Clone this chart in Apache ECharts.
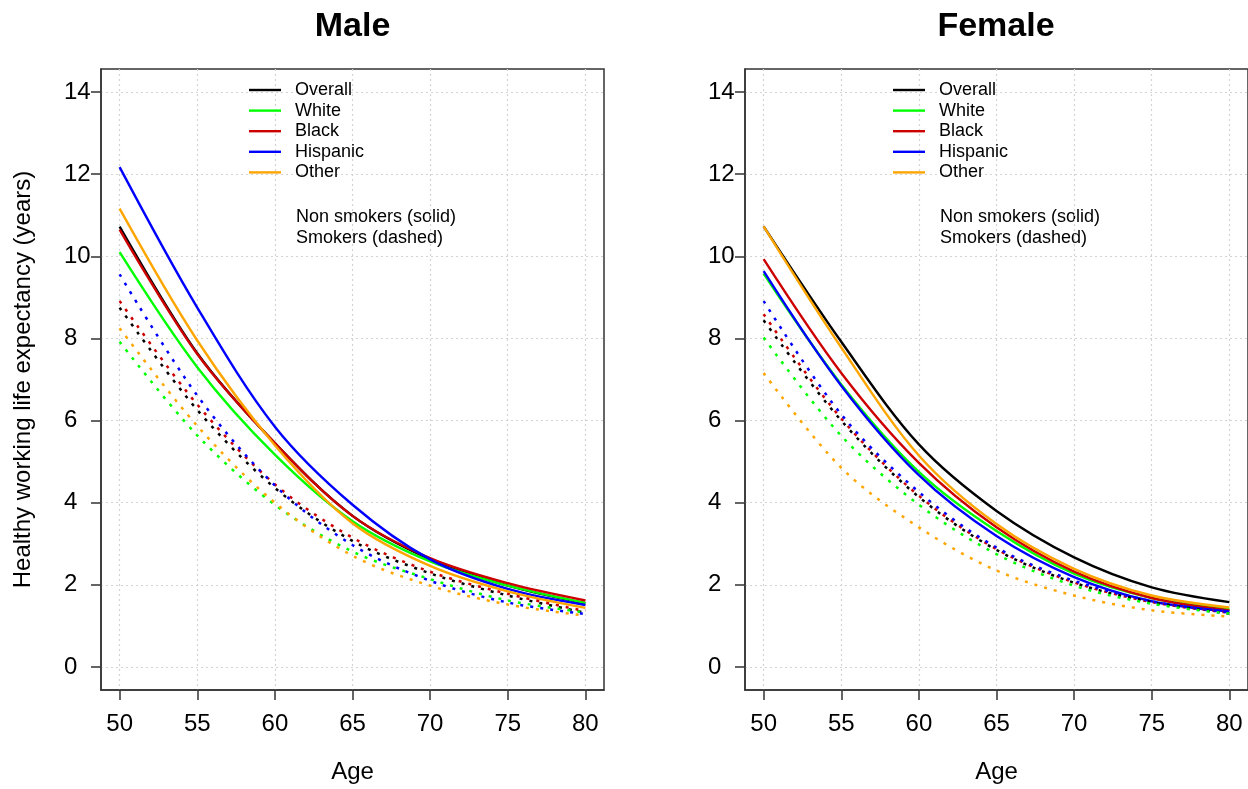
<!DOCTYPE html>
<html>
<head>
<meta charset="utf-8">
<script src="https://cdn.jsdelivr.net/npm/echarts@6/dist/echarts.min.js"></script>
<style>html,body{margin:0;padding:0;background:#fff}#c{width:1248px;height:789px}</style>
</head>
<body>
<div id="c"></div>
<script>
const ages = [50, 55, 60, 65, 70, 75, 80];
const groups = ['Overall', 'White', 'Black', 'Hispanic', 'Other'];
const groupColors = ['#000000', '#00ff00', '#cd0000', '#0000ff', '#ffa500'];
const xTicks = [50, 55, 60, 65, 70, 75, 80];
const yTicks = [0, 2, 4, 6, 8, 10, 12, 14];

// Male, non smokers (solid)
const maleOverallNS  = [10.72, 7.64, 5.45, 3.68, 2.62, 1.98, 1.55];
const maleWhiteNS    = [10.10, 7.30, 5.17, 3.55, 2.57, 1.98, 1.56];
const maleBlackNS    = [10.65, 7.62, 5.45, 3.68, 2.65, 2.04, 1.62];
const maleHispanicNS = [12.17, 8.75, 5.85, 3.95, 2.62, 1.90, 1.51];
const maleOtherNS    = [11.16, 7.95, 5.40, 3.50, 2.46, 1.84, 1.44];
// Male, smokers (dashed)
const maleOverallS   = [8.75, 6.26, 4.36, 3.07, 2.28, 1.74, 1.32];
const maleWhiteS     = [7.92, 5.64, 3.95, 2.81, 2.14, 1.62, 1.33];
const maleBlackS     = [8.91, 6.39, 4.45, 3.15, 2.32, 1.78, 1.36];
const maleHispanicS  = [9.56, 6.61, 4.42, 2.97, 2.10, 1.57, 1.29];
const maleOtherS     = [8.25, 5.87, 4.00, 2.71, 1.98, 1.52, 1.25];
// Female, non smokers (solid)
const femOverallNS   = [10.73, 7.92, 5.42, 3.80, 2.67, 1.94, 1.58];
const femWhiteNS     = [9.58, 6.88, 4.75, 3.31, 2.27, 1.68, 1.41];
const femBlackNS     = [9.93, 7.16, 4.97, 3.40, 2.32, 1.68, 1.38];
const femHispanicNS  = [9.64, 6.85, 4.67, 3.19, 2.19, 1.60, 1.35];
const femOtherNS     = [10.73, 7.78, 5.15, 3.48, 2.39, 1.74, 1.45];
// Female, smokers (dashed)
const femOverallS    = [8.44, 6.00, 4.14, 2.85, 2.05, 1.58, 1.30];
const femWhiteS      = [8.02, 5.63, 3.95, 2.75, 1.98, 1.54, 1.30];
const femBlackS      = [8.59, 6.05, 4.17, 2.87, 2.06, 1.58, 1.32];
const femHispanicS   = [8.91, 6.15, 4.26, 2.91, 2.10, 1.60, 1.33];
const femOtherS      = [7.16, 4.85, 3.40, 2.35, 1.74, 1.38, 1.23];

const maleNS = [maleOverallNS, maleWhiteNS, maleBlackNS, maleHispanicNS, maleOtherNS];
const maleS  = [maleOverallS, maleWhiteS, maleBlackS, maleHispanicS, maleOtherS];
const femNS  = [femOverallNS, femWhiteNS, femBlackNS, femHispanicNS, femOtherNS];
const femS   = [femOverallS, femWhiteS, femBlackS, femHispanicS, femOtherS];

const FONT = "'Liberation Sans', Arial, sans-serif";
const pair = arr => ages.map((a, i) => [a, arr[i]]);
const seriesKey = g => 'ns_' + g;

function mkXAxis(idx) {
  return {
    type: 'value', gridIndex: idx, min: 48.8, max: 81.2,
    name: 'Age', nameLocation: 'middle', nameGap: 70,
    nameTextStyle: { fontSize: 24, fontFamily: FONT, color: '#000' },
    axisLine: { show: true, onZero: false, lineStyle: { color: '#333', width: 1.5 } },
    axisTick: { show: true, length: 10, customValues: xTicks, lineStyle: { color: '#333', width: 1.5 } },
    axisLabel: { customValues: xTicks, fontSize: 24, fontFamily: FONT, color: '#000', margin: 22 },
    splitLine: { show: true, lineStyle: { color: '#d3d3d3', type: [2, 3], width: 1.2 } }
  };
}
function mkYAxis(idx, withName) {
  return {
    type: 'value', gridIndex: idx, min: -0.56, max: 14.56,
    name: withName ? 'Healthy working life expectancy (years)' : '',
    nameLocation: 'middle', nameGap: 66,
    nameTextStyle: { fontSize: 24, fontFamily: FONT, color: '#000' },
    axisLine: { show: true, onZero: false, lineStyle: { color: '#333', width: 1.5 } },
    axisTick: { show: true, length: 10, customValues: yTicks, lineStyle: { color: '#333', width: 1.5 } },
    axisLabel: { customValues: yTicks, fontSize: 24, fontFamily: FONT, color: '#000', margin: 37, align: 'left' },
    splitLine: { show: true, lineStyle: { color: '#d3d3d3', type: [2, 3], width: 1.2 } }
  };
}

const series = [];
function addPanel(idx, ns, s) {
  groups.forEach((g, k) => {
    series.push({
      name: seriesKey(g), type: 'line', xAxisIndex: idx, yAxisIndex: idx,
      data: pair(ns[k]), smooth: 0.33, symbol: 'none',
      lineStyle: { color: groupColors[k], width: 2.4, type: 'solid' },
      itemStyle: { color: groupColors[k] }
    });
  });
  groups.forEach((g, k) => {
    series.push({
      name: 'smk_' + k, type: 'line', xAxisIndex: idx, yAxisIndex: idx,
      data: pair(s[k]), smooth: 0.33, symbol: 'none',
      lineStyle: { color: groupColors[k], width: 2.5, type: [3, 7] },
      itemStyle: { color: groupColors[k] }
    });
  });
}
addPanel(0, maleNS, maleS);
addPanel(1, femNS, femS);

function mkLegend(left) {
  return {
    z: 20,
    data: groups.map((g, k) => ({
      name: seriesKey(g),
      icon: 'path://M0,0H32V2.4H0Z',
      itemStyle: { color: groupColors[k], borderWidth: 0, opacity: 1 }
    })),
    formatter: name => name.replace('ns_', ''),
    orient: 'vertical', left: left, top: 79.7,
    itemWidth: 32, itemHeight: 2.4, itemGap: 0, padding: 0,
    selectedMode: false,
    itemStyle: { borderWidth: 0 },
    textStyle: { fontSize: 18, fontFamily: FONT, color: '#000', padding: [0, 0, 0, 9], lineHeight: 20.6 }
  };
}
function txt(x, y, text, size, weight) {
  return { type: 'text', x: x, y: y, style: { text: text, fill: '#000', font: (weight || 'normal') + ' ' + size + 'px ' + FONT, align: 'center', verticalAlign: 'middle', textAlign: 'center', textVerticalAlign: 'middle' } };
}
function note(x, y, text) {
  return { type: 'text', x: x, y: y, style: { text: text, fill: '#000', font: '18px ' + FONT, align: 'left', verticalAlign: 'middle', textAlign: 'left', textVerticalAlign: 'middle' } };
}

const option = {
  animation: false,
  backgroundColor: '#fff',
  grid: [
    { left: 101, top: 69, width: 503, height: 626, show: true, borderColor: '#333', borderWidth: 1.5, containLabel: false },
    { left: 745, top: 69, width: 503, height: 626, show: true, borderColor: '#333', borderWidth: 1.5, containLabel: false }
  ],
  xAxis: [mkXAxis(0), mkXAxis(1)],
  yAxis: [mkYAxis(0, true), mkYAxis(1, false)],
  legend: [mkLegend(249), mkLegend(893)],
  graphic: [
    txt(352.5, 27, 'Male', 34, 'bold'),
    txt(996, 27, 'Female', 34, 'bold'),
    note(296, 216.7, 'Non smokers (solid)'),
    note(296, 238.3, 'Smokers (dashed)'),
    note(940, 216.7, 'Non smokers (solid)'),
    note(940, 238.3, 'Smokers (dashed)')
  ],
  series: series
};
const chart = echarts.init(document.getElementById('c'), null, { renderer: 'canvas' });
chart.setOption(option);
</script>
</body>
</html>
